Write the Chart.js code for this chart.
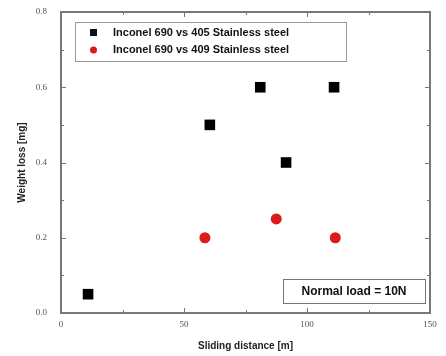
<!DOCTYPE html>
<html>
<head>
<meta charset="utf-8">
<script src="https://cdn.jsdelivr.net/npm/chart.js@4.4.1/dist/chart.umd.min.js"></script>
<style>
  html, body { margin: 0; padding: 0; background: #fff; }
  #wrap { width: 446px; height: 356px; }
</style>
</head>
<body>
<div id="wrap"><canvas id="grafico"></canvas></div>
<script>
// ---------- dados ----------
const serieNomes = ["Inconel 690 vs 405 Stainless steel", "Inconel 690 vs 409 Stainless steel"];
const distancia405 = [11, 60.5, 81, 91.5, 111];
const perda405 = [0.05, 0.5, 0.6, 0.4, 0.6];
const distancia409 = [58.5, 87.5, 111.5];
const perda409 = [0.2, 0.25, 0.2];
const nota = "Normal load = 10N";

const pares = (xs, ys) => xs.map((x, i) => ({ x: x, y: ys[i] }));

// moldura, ticks internos, legenda e nota
const moldura = {
  id: "moldura",
  afterDatasetsDraw(chart) {
    const { ctx, chartArea: a, scales } = chart;
    ctx.save();
    ctx.strokeStyle = "#777";
    ctx.lineWidth = 2;
    ctx.strokeRect(a.left, a.top, a.right - a.left, a.bottom - a.top);

    ctx.lineWidth = 1;
    scales.x.ticks.forEach(t => {
      const px = Math.round(scales.x.getPixelForValue(t.value)) + 0.5;
      const len = t.value % 50 === 0 ? 5 : 3;
      ctx.beginPath();
      ctx.moveTo(px, a.bottom); ctx.lineTo(px, a.bottom - len);
      ctx.moveTo(px, a.top); ctx.lineTo(px, a.top + len);
      ctx.stroke();
    });
    scales.y.ticks.forEach(t => {
      const py = Math.round(scales.y.getPixelForValue(t.value)) + 0.5;
      const len = Math.round(t.value * 10) % 2 === 0 ? 5 : 3;
      ctx.beginPath();
      ctx.moveTo(a.left, py); ctx.lineTo(a.left + len, py);
      ctx.moveTo(a.right, py); ctx.lineTo(a.right - len, py);
      ctx.stroke();
    });

    // legenda
    const lx = a.left + 14, ly = a.top + 10;
    ctx.strokeStyle = "#999";
    ctx.lineWidth = 1;
    ctx.strokeRect(lx + 0.5, ly + 0.5, 271, 39);
    ctx.font = "bold 11px 'Liberation Sans', Arial, sans-serif";
    ctx.textBaseline = "middle";
    ctx.fillStyle = "#111";
    ctx.fillRect(lx + 15, ly + 7, 7, 7);
    ctx.fillText(serieNomes[0], lx + 38, ly + 11);
    ctx.fillStyle = "#dd1a1a";
    ctx.beginPath(); ctx.arc(lx + 18.5, ly + 28, 3.5, 0, Math.PI * 2); ctx.fill();
    ctx.fillStyle = "#111";
    ctx.fillText(serieNomes[1], lx + 38, ly + 28);

    // nota
    const nx = a.right - 147, ny = a.bottom - 34;
    ctx.strokeStyle = "#777";
    ctx.strokeRect(nx + 0.5, ny + 0.5, 142, 24);
    ctx.font = "bold 12px 'Liberation Sans', Arial, sans-serif";
    ctx.textAlign = "center";
    ctx.fillText(nota, nx + 71, ny + 13);
    ctx.restore();
  }
};

// tamanho fixo das escalas, sem folga extra dos rotulos
const fixa = (w, h) => s => {
  if (w) s.width = w;
  if (h) s.height = h;
  s.paddingTop = 0; s.paddingBottom = 0;
  s.paddingLeft = 0; s.paddingRight = 0;
};

const ctx1 = document.getElementById("grafico").getContext("2d");
new Chart(ctx1, {
  type: "scatter",
  data: {
    datasets: [
      {
        label: serieNomes[0],
        data: pares(distancia405, perda405),
        pointStyle: "rect",
        pointRadius: 7.5,
        pointHoverRadius: 7.5,
        backgroundColor: "#000",
        borderColor: "#000",
        borderWidth: 0
      },
      {
        label: serieNomes[1],
        data: pares(distancia409, perda409),
        pointStyle: "circle",
        pointRadius: 5.5,
        pointHoverRadius: 5.5,
        backgroundColor: "#dd1a1a",
        borderColor: "#dd1a1a",
        borderWidth: 0
      }
    ]
  },
  options: {
    responsive: true,
    maintainAspectRatio: false,
    animation: false,
    layout: { padding: { top: 12, right: 16, left: 0, bottom: 0 } },
    plugins: {
      legend: { display: false },
      tooltip: { enabled: false }
    },
    scales: {
      x: {
        type: "linear",
        min: 0,
        max: 150,
        grid: { display: false, drawTicks: false },
        border: { display: false },
        ticks: {
          stepSize: 25,
          padding: 6,
          color: "#555",
          font: { size: 9, family: "'Liberation Serif', serif" },
          callback: v => (v % 50 === 0 ? String(v) : "")
        },
        title: {
          display: true,
          text: "Sliding distance [m]",
          color: "#222",
          font: { size: 10, weight: "bold", family: "'Liberation Sans', Arial, sans-serif" },
          padding: { top: 8 }
        },
        afterFit: fixa(0, 43)
      },
      y: {
        type: "linear",
        min: 0,
        max: 0.8,
        grid: { display: false, drawTicks: false },
        border: { display: false },
        ticks: {
          stepSize: 0.1,
          padding: 14,
          color: "#555",
          font: { size: 9, family: "'Liberation Serif', serif" },
          callback: v => (Math.round(v * 10) % 2 === 0 ? v.toFixed(1) : "")
        },
        title: {
          display: true,
          text: "Weight loss [mg]",
          color: "#222",
          font: { size: 10, weight: "bold", family: "'Liberation Sans', Arial, sans-serif" },
          padding: { top: 16, bottom: 4 }
        },
        afterFit: fixa(61, 0)
      }
    }
  },
  plugins: [moldura]
});
</script>
</body>
</html>
